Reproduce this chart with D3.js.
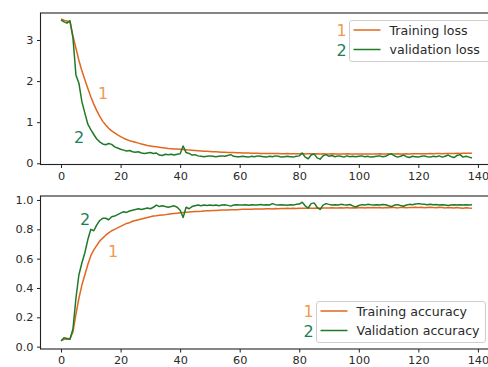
<!DOCTYPE html>
<html><head><meta charset="utf-8">
<script src="https://cdn.jsdelivr.net/npm/d3@7"></script>
<style>
html,body{margin:0;padding:0;background:#fff;overflow:hidden;}
svg{display:block;font-family:"DejaVu Sans",sans-serif;}
</style></head>
<body><svg id="c" width="488" height="367"></svg>
<script>
const trainLoss = [3.51,3.48,3.46,3.44,3.10,2.80,2.50,2.25,2.03,1.82,
1.62,1.44,1.28,1.14,1.02,0.93,0.85,0.79,0.74,0.69,
0.65,0.61,0.58,0.55,0.53,0.51,0.49,0.47,0.45,0.43,
0.42,0.41,0.40,0.39,0.38,0.37,0.36,0.355,0.35,0.345,
0.34,0.335,0.33,0.32,0.315,0.31,0.305,0.30,0.295,0.29,
0.285,0.28,0.28,0.275,0.27,0.27,0.265,0.26,0.26,0.255,
0.255,0.25,0.25,0.248,0.245,0.245,0.243,0.24,0.24,0.238,
0.24,0.236,0.235,0.237,0.234,0.233,0.235,0.232,0.23,0.232,
0.23,0.235,0.228,0.23,0.232,0.228,0.23,0.226,0.229,0.228,
0.227,0.23,0.226,0.228,0.225,0.227,0.229,0.225,0.226,0.228,
0.224,0.226,0.228,0.225,0.227,0.224,0.226,0.229,0.225,0.227,
0.23,0.228,0.226,0.229,0.227,0.225,0.23,0.228,0.232,0.229,
0.231,0.234,0.23,0.233,0.236,0.232,0.235,0.238,0.234,0.237,
0.24,0.236,0.239,0.242,0.238,0.244,0.241,0.246,0.243];

const valLoss = [3.49,3.44,3.41,3.47,3.05,2.15,1.95,1.50,1.22,0.95,
0.82,0.70,0.59,0.52,0.47,0.45,0.48,0.46,0.40,0.37,
0.34,0.32,0.30,0.31,0.28,0.27,0.28,0.25,0.24,0.25,
0.26,0.24,0.25,0.20,0.19,0.22,0.21,0.22,0.20,0.22,
0.23,0.42,0.26,0.24,0.20,0.21,0.18,0.17,0.16,0.17,
0.18,0.17,0.16,0.17,0.18,0.17,0.19,0.21,0.17,0.16,
0.16,0.17,0.16,0.15,0.17,0.16,0.18,0.17,0.16,0.15,
0.17,0.16,0.18,0.17,0.15,0.16,0.17,0.16,0.15,0.17,
0.18,0.25,0.15,0.11,0.20,0.23,0.13,0.10,0.18,0.21,
0.17,0.19,0.16,0.18,0.17,0.15,0.18,0.16,0.17,0.16,
0.17,0.18,0.16,0.17,0.15,0.16,0.17,0.18,0.16,0.17,
0.21,0.23,0.18,0.15,0.17,0.20,0.16,0.14,0.17,0.16,
0.15,0.17,0.18,0.16,0.15,0.17,0.16,0.18,0.15,0.17,
0.20,0.16,0.14,0.19,0.21,0.15,0.17,0.15,0.13];

const trainAcc = [0.04,0.05,0.05,0.055,0.10,0.22,0.33,0.42,0.49,0.56,
0.62,0.66,0.69,0.72,0.74,0.76,0.775,0.79,0.80,0.81,
0.82,0.83,0.84,0.845,0.855,0.86,0.865,0.87,0.875,0.88,
0.885,0.89,0.892,0.895,0.898,0.90,0.903,0.906,0.908,0.91,
0.912,0.914,0.916,0.918,0.92,0.921,0.922,0.923,0.925,0.926,
0.927,0.928,0.929,0.93,0.931,0.932,0.932,0.933,0.934,0.934,
0.935,0.936,0.936,0.937,0.937,0.938,0.938,0.939,0.939,0.94,
0.94,0.939,0.941,0.94,0.942,0.941,0.943,0.942,0.943,0.942,
0.944,0.943,0.944,0.945,0.943,0.944,0.946,0.944,0.945,0.946,
0.945,0.947,0.946,0.945,0.947,0.946,0.948,0.946,0.947,0.945,
0.947,0.948,0.946,0.948,0.947,0.949,0.947,0.948,0.946,0.948,
0.947,0.949,0.948,0.946,0.949,0.948,0.947,0.949,0.948,0.95,
0.948,0.95,0.947,0.949,0.95,0.948,0.947,0.95,0.948,0.946,
0.949,0.947,0.945,0.948,0.946,0.944,0.947,0.945,0.944];

const valAcc = [0.04,0.06,0.055,0.05,0.12,0.33,0.49,0.57,0.64,0.73,
0.80,0.79,0.83,0.86,0.875,0.875,0.865,0.885,0.89,0.90,
0.91,0.92,0.915,0.925,0.93,0.935,0.94,0.935,0.94,0.945,
0.94,0.95,0.965,0.955,0.96,0.955,0.95,0.955,0.96,0.95,
0.93,0.88,0.95,0.94,0.955,0.96,0.965,0.96,0.965,0.962,
0.965,0.963,0.966,0.96,0.965,0.967,0.963,0.958,0.966,0.968,
0.966,0.965,0.968,0.964,0.967,0.965,0.966,0.969,0.965,0.967,
0.966,0.975,0.968,0.965,0.967,0.966,0.964,0.968,0.966,0.97,
0.972,0.985,0.96,0.945,0.975,0.98,0.95,0.935,0.965,0.975,
0.97,0.966,0.968,0.965,0.97,0.967,0.966,0.969,0.96,0.952,
0.962,0.968,0.966,0.97,0.967,0.965,0.968,0.966,0.969,0.967,
0.96,0.955,0.965,0.968,0.962,0.957,0.966,0.97,0.968,0.972,
0.975,0.972,0.97,0.968,0.971,0.967,0.969,0.966,0.968,0.965,
0.962,0.966,0.968,0.965,0.967,0.966,0.968,0.966,0.967];

const xTicks = [0,20,40,60,80,100,120,140];
const lossTicks = [0,1,2,3];
const accTicks = [0.0,0.2,0.4,0.6,0.8,1.0];
const lossLegend = ["Training loss","validation loss"];
const accLegend = ["Training accuracy","Validation accuracy"];
const seriesNums = ["1","2"];

const C_TRAIN = "#e2671f", C_VAL = "#1f7a27";
const C_NUM1 = "#ef9a55", C_NUM2 = "#1a7f55";

const svg = d3.select("#c");
const x = d3.scaleLinear().domain([-6.9,144.9]).range([40.5,492.5]);

function panel(yDom, yRange, ticks, fmt, series, legend, lg, ann){
  const [b,t] = yRange;
  const y = d3.scaleLinear().domain(yDom).range(yRange);
  const g = svg.append("g");
  const line = d3.line().x((d,i)=>x(i)).y(d=>y(d));
  series.forEach((s,k)=>{
    g.append("path").datum(s).attr("fill","none")
     .attr("stroke", k===0?C_TRAIN:C_VAL).attr("stroke-width",1.5)
     .attr("stroke-linejoin","round").attr("d",line);
  });
  g.append("rect").attr("x",40.5).attr("y",t).attr("width",460).attr("height",b-t)
   .attr("fill","none").attr("stroke","#222").attr("stroke-width",1.1);
  const ax = g.append("g").attr("transform",`translate(0,${b})`)
    .call(d3.axisBottom(x).tickValues(xTicks).tickSize(3.5).tickPadding(3.5).tickFormat(d3.format("d")));
  const ay = g.append("g").attr("transform","translate(40.5,0)")
    .call(d3.axisLeft(y).tickValues(ticks).tickSize(3.5).tickPadding(3.5).tickFormat(fmt));
  [ax,ay].forEach(a=>{
    a.select(".domain").remove();
    a.selectAll("line").attr("stroke","#222");
    a.selectAll("text").attr("fill","#2a2a2a").attr("font-size",11.3).attr("font-family","DejaVu Sans");
  });
  g.append("rect").attr("x",lg.x).attr("y",lg.y).attr("width",lg.w).attr("height",lg.h)
   .attr("rx",2.5).attr("fill","#fff").attr("fill-opacity",0.9).attr("stroke","#cfcfcf");
  legend.forEach((txt,k)=>{
    const yy = lg.y + 9.5 + k*19.5;
    g.append("line").attr("x1",lg.x+4).attr("x2",lg.x+31).attr("y1",yy).attr("y2",yy)
      .attr("stroke",k===0?C_TRAIN:C_VAL).attr("stroke-width",1.5);
    g.append("text").attr("x",lg.x+40).attr("y",yy+4.5).text(txt)
      .attr("font-size",12.6).attr("fill","#2a2a2a");
    g.append("text").attr("x",lg.x-8).attr("y",yy+6).text(seriesNums[k])
      .attr("text-anchor","middle").attr("font-size",16).attr("fill",k===0?C_NUM1:C_NUM2);
  });
  ann.forEach((a,k)=>{
    g.append("text").attr("x",a[0]).attr("y",a[1]).text(seriesNums[k])
      .attr("text-anchor","middle").attr("font-size",16).attr("fill",k===0?C_NUM1:C_NUM2);
  });
}

panel([-0.03,3.657],[164.5,13],lossTicks,d3.format("d"),[trainLoss,valLoss],lossLegend,
  {x:349.5,y:20.5,w:150,h:41},[[103,99],[79,143]]);
panel([-0.016,1.027],[349,196],accTicks,d3.format(".1f"),[trainAcc,valAcc],accLegend,
  {x:316.5,y:301.5,w:169,h:41},[[113,257],[85,225]]);
</script></body></html>
